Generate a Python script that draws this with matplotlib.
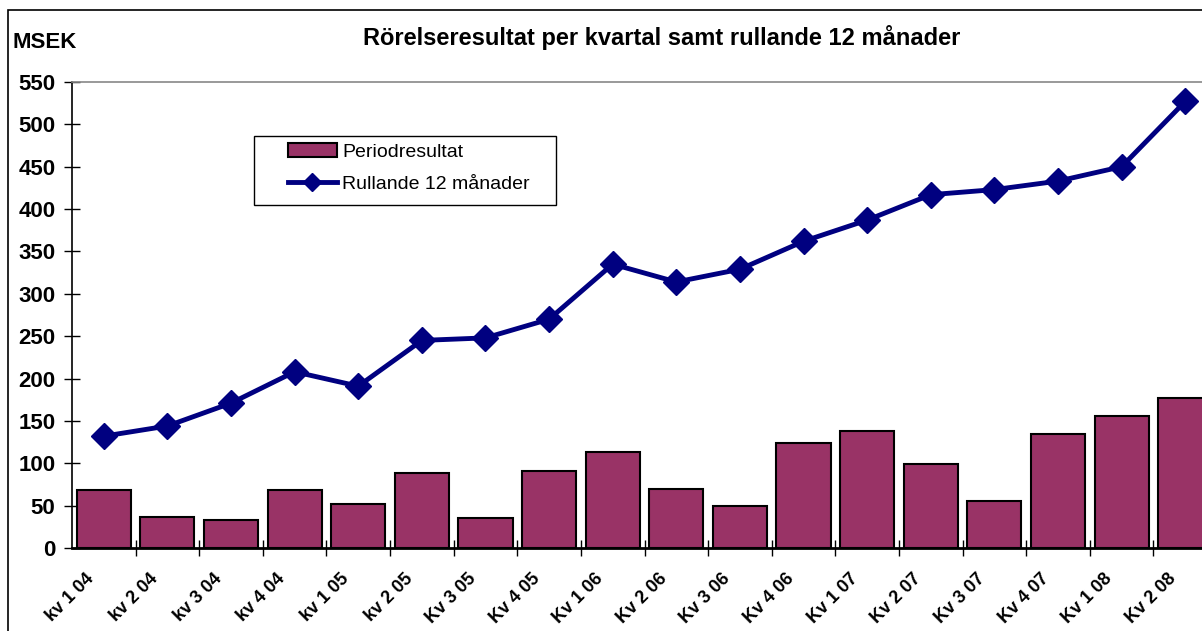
import matplotlib
matplotlib.use("Agg")
import matplotlib.pyplot as plt
import numpy as np
from matplotlib.patches import Rectangle
import matplotlib.transforms as mtransforms

categories = ["kv 1 04", "kv 2 04", "kv 3 04", "kv 4 04", "kv 1 05", "kv 2 05",
              "Kv 3 05", "Kv 4 05", "Kv 1 06", "Kv 2 06", "Kv 3 06", "Kv 4 06",
              "Kv 1 07", "Kv 2 07", "Kv 3 07", "Kv 4 07", "Kv 1 08", "Kv 2 08"]
periodresultat = [68, 37, 33, 68, 52, 89, 35, 91, 113, 70, 49, 124,
                  138, 99, 56, 134, 156, 177]
rullande = [132, 144, 171, 208, 191, 245, 248, 270, 335, 314, 329, 362,
            387, 417, 423, 433, 450, 527]
yticks = list(range(0, 551, 50))

plt.rcParams['font.family'] = ['Liberation Sans', 'DejaVu Sans']

W, H = 1202, 631
fig = plt.figure(figsize=(W / 100, H / 100), dpi=100)

# figure border (cut at right/bottom)
fig.patches.append(Rectangle((8 / W, -0.1), 1.2, (H - 10) / H + 0.1, transform=fig.transFigure,
                             fill=False, edgecolor='black', linewidth=1.2))

left = 72 / W
right = 1217 / W
bottom = (H - 548) / H
top = (H - 82) / H
ax = fig.add_axes([left, bottom, right - left, top - bottom])

x = np.arange(len(categories))
bars = ax.bar(x, periodresultat, width=0.85, color='#993366', edgecolor='black', linewidth=1.5,
              label='Periodresultat', zorder=2)
line, = ax.plot(x, rullande, color='#000080', linewidth=3.5, marker='D', markersize=13,
                label='Rullande 12 månader', zorder=3)

ax.set_xlim(-0.5, len(categories) - 0.5)
ax.set_ylim(0, 550)
ax.set_yticks(yticks)
ax.set_yticklabels([str(v) for v in yticks], fontsize=16, fontweight='bold')
ax.tick_params(axis='y', direction='inout', length=12, width=1, pad=6)

ax.set_xticks(x)
ax.set_xticklabels(categories, fontsize=13, fontweight='bold', rotation=45,
                   ha='right', va='top', rotation_mode='anchor')
ax.tick_params(axis='x', which='major', length=0, pad=16)
ax.set_xticks(np.arange(len(categories)) + 0.5, minor=True)
ax.tick_params(axis='x', which='minor', direction='inout', length=12, width=1)
offset = mtransforms.ScaledTranslation(-18 / 100, 0, fig.dpi_scale_trans)
for lbl in ax.get_xticklabels():
    lbl.set_transform(lbl.get_transform() + offset)

ax.spines['left'].set_linewidth(1.2)
ax.spines['bottom'].set_linewidth(2)
ax.spines['top'].set_color('#888888')
ax.spines['top'].set_linewidth(1.2)
ax.spines['right'].set_visible(False)

fig.text(662 / W, (H - 38) / H, "Rörelseresultat per kvartal samt rullande 12 månader",
         ha='center', va='center', fontsize=17, fontweight='bold')
fig.text(12 / W, (H - 43) / H, "MSEK", ha='left', va='center', fontsize=16, fontweight='bold')

# legend frame (drawn inside the axes so the legend can sit on top)
ax.add_patch(Rectangle((254 / W, (H - 205) / H), 302 / W, 69 / H, transform=fig.transFigure,
                       facecolor='white', edgecolor='black', linewidth=1, zorder=10,
                       clip_on=False))
leg = ax.legend([bars, line], ['Periodresultat', 'Rullande 12 månader'],
                loc='upper left', bbox_to_anchor=(286 / W, (H - 141) / H),
                bbox_transform=fig.transFigure, fontsize=14, frameon=False,
                borderpad=0.1, handlelength=2.5, handletextpad=0.3, labelspacing=0.75,
                borderaxespad=0)
leg.set_zorder(20)
leg.legend_handles[1].set_markersize(9)

fig.savefig("out.png", dpi=100)
